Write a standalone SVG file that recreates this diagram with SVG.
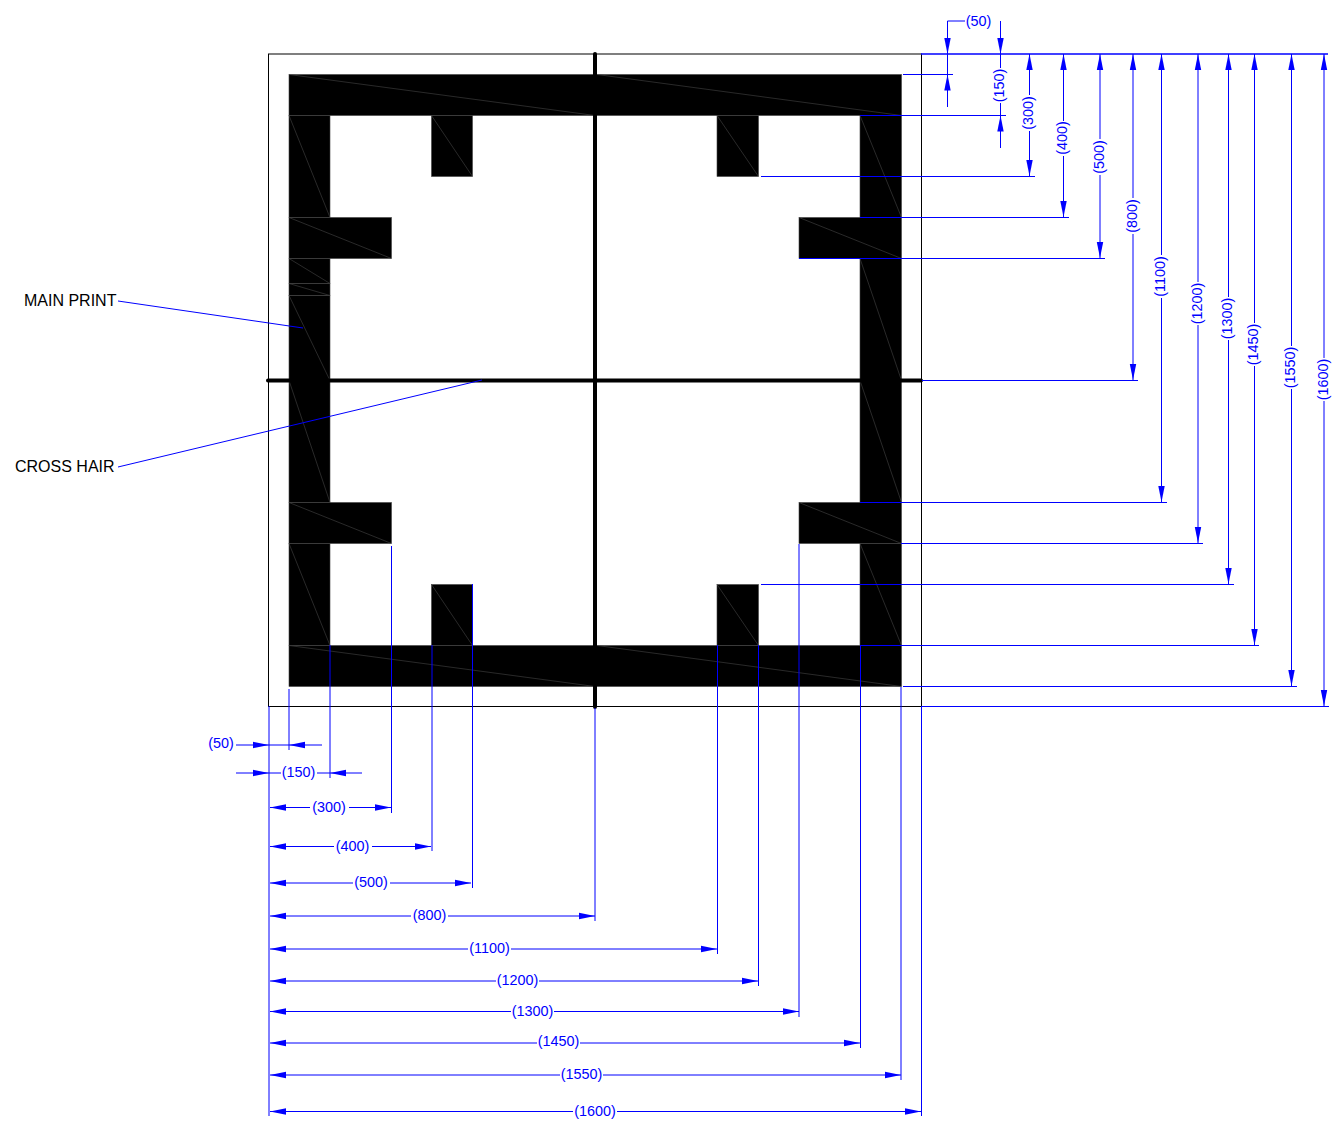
<svg xmlns="http://www.w3.org/2000/svg" width="1332" height="1122" viewBox="0 0 1332 1122">
<style>
.s{fill:#000;stroke:#444;stroke-width:.6}
.d{fill:none;stroke:#444;stroke-width:.6}
.o{fill:none;stroke:#000;stroke-width:1}
.c{fill:none;stroke:#000;stroke-width:4;stroke-linecap:round}
.b{fill:none;stroke:#00f;stroke-width:1}
.a{marker-start:url(#ar);marker-end:url(#ar)}
.e{marker-end:url(#ar)}
text{font-family:"Liberation Sans",Arial,sans-serif;font-size:14.4px}
.t{fill:#00f;text-anchor:middle}
.l{fill:#000;font-size:16px}
</style>
<defs>
<marker id="ar" markerUnits="userSpaceOnUse" markerWidth="16" markerHeight="8" refX="16" refY="4" orient="auto-start-reverse"><path d="M0 .8L16 4L0 7.2Z" fill="#00f"/></marker>
</defs>
<rect id="sheet" x="268.5" y="54" width="653" height="652.5" class="o"/>
<g id="main-print">
<rect class="s" x="289" y="74.5" width="612.5" height="41"/><path class="d" d="M289 74.5L595 115.5M597 74.5L901.5 115.5"/>
<rect class="s" x="289" y="645.5" width="612.5" height="41"/><path class="d" d="M289 645.5L595 686.5M597 645.5L901.5 686.5"/>
<rect class="s" x="289" y="115.5" width="41" height="102"/><path class="d" d="M289 115.5L330 217.5"/>
<rect class="s" x="289" y="217.5" width="102.5" height="41"/><path class="d" d="M289 217.5L391.5 258.5"/>
<rect class="s" x="289" y="258.5" width="41" height="25"/><path class="d" d="M289 258.5L330 283.5"/>
<rect class="s" x="289" y="283.5" width="41" height="12"/><path class="d" d="M289 283.5L330 295.5"/>
<rect class="s" x="289" y="295.5" width="41" height="85"/><path class="d" d="M289 295.5L330 380.5"/>
<rect class="s" x="289" y="380.5" width="41" height="122"/><path class="d" d="M289 380.5L330 502.5"/>
<rect class="s" x="289" y="502.5" width="102.5" height="41"/><path class="d" d="M289 502.5L391.5 543.5"/>
<rect class="s" x="289" y="543.5" width="41" height="102"/><path class="d" d="M289 543.5L330 645.5"/>
<rect class="s" x="860" y="115.5" width="41.500" height="102"/><path class="d" d="M860 115.5L901.500 217.5"/>
<rect class="s" x="799" y="217.5" width="102.5" height="41"/><path class="d" d="M799 217.5L901.5 258.5"/>
<rect class="s" x="860" y="258.5" width="41.5" height="122"/><path class="d" d="M860 258.5L901.5 380.5"/>
<rect class="s" x="860" y="380.5" width="41.5" height="122"/><path class="d" d="M860 380.5L901.5 502.5"/>
<rect class="s" x="799" y="502.5" width="102.5" height="41"/><path class="d" d="M799 502.5L901.5 543.5"/>
<rect class="s" x="860" y="543.5" width="41.5" height="102"/><path class="d" d="M860 543.5L901.5 645.5"/>
<rect class="s" x="431.500" y="115.5" width="41" height="61"/><path class="d" d="M431.500 115.5L472.5 176.5"/>
<rect class="s" x="717" y="115.5" width="41.5" height="61"/><path class="d" d="M717 115.5L758.5 176.5"/>
<rect class="s" x="431.500" y="584.5" width="41" height="61"/><path class="d" d="M431.500 584.5L472.5 645.5"/>
<rect class="s" x="717" y="584.5" width="41.5" height="61"/><path class="d" d="M717 584.5L758.5 645.5"/>
</g>
<g id="cross-hair">
<path class="c" d="M268 380.500H921M595 54V707"/>
</g>
<g id="label-main-print"><text class="l" x="24" y="306">MAIN PRINT</text></g>
<g id="label-cross-hair"><text class="l" x="15" y="472">CROSS HAIR</text></g>
<g id="connectors">
<path class="b" d="M118 301L303 328M118 467L482 380"/>
<path class="b" style="stroke-width:1.6" d="M921 54H1328"/>
<path class="b" d="M903 74.500H953M860 115.500H1006M761 176.500H1035M860 217.500H1069M799 258.500H1105M922 380.500H1138M860 502.500H1167M901 543.500H1203M761 584.500H1234M860 645.500H1259M903 686.500H1297M921 706.500H1329"/>
<path class="b e" d="M965 21H947.500V54"/>
<path class="b" d="M947.500 54V74.500"/>
<path class="b e" d="M947.500 107V74.500"/>
<path class="b e" d="M1000.500 21V54"/>
<path class="b" d="M1000.500 54V68M1000.500 103V115"/>
<path class="b e" d="M1000.500 148V115.500"/>
<path class="b a" d="M1029.500 54V95M1029.500 131V176"/>
<path class="b a" d="M1063.500 54V121M1063.500 156V217"/>
<path class="b a" d="M1100 54V139M1100 175V258"/>
<path class="b a" d="M1133 54V198M1133 234V380"/>
<path class="b a" d="M1161.500 54V255M1161.500 298V502"/>
<path class="b a" d="M1198 54V282M1198 325V543"/>
<path class="b a" d="M1228.500 54V297M1228.500 340V584"/>
<path class="b a" d="M1254.500 54V323M1254.500 366V645"/>
<path class="b a" d="M1291.500 54V346M1291.500 389V686"/>
<path class="b a" d="M1324 54V358M1324 401V706"/>
<path class="b" d="M269 706V1116M921.500 706V1116M289 689V750M330 645V778M391.500 546V813M432 645V851M472.500 584V888M595 708V921M717.500 645V954M758.500 645V986M799 544V1017M860.500 645V1048M901 687V1080"/>
<path class="b e" d="M236 745H269"/>
<path class="b" d="M269 745H289"/>
<path class="b e" d="M322 745H289"/>
<path class="b e" d="M236 773H269"/>
<path class="b" d="M269 773H281M317 773H330"/>
<path class="b e" d="M362 773H330"/>
<path class="b a" d="M270 807.500H310M349 807.500H391"/>
<path class="b a" d="M270 846.500H334M372 846.500H431"/>
<path class="b a" d="M270 883H353M390 883H471"/>
<path class="b a" d="M270 916H411M448 916H595"/>
<path class="b a" d="M270 949H468M511 949H717"/>
<path class="b a" d="M270 981H496M539 981H758"/>
<path class="b a" d="M270 1011.500H511M554 1011.500H799"/>
<path class="b a" d="M270 1043H537M580 1043H860"/>
<path class="b a" d="M270 1075H560M603 1075H901"/>
<path class="b a" d="M270 1111.500H573M617 1111.500H921"/>
</g>
<g id="dimension-labels">
<text class="t" x="978.500" y="26">(50)</text>
<text class="t" transform="translate(1000.500 85.500) rotate(-90)" y="3.500">(150)</text>
<text class="t" transform="translate(1029.500 113) rotate(-90)" y="3.500">(300)</text>
<text class="t" transform="translate(1063.500 138) rotate(-90)" y="3.500">(400)</text>
<text class="t" transform="translate(1100 157) rotate(-90)" y="3.500">(500)</text>
<text class="t" transform="translate(1133 216) rotate(-90)" y="3.500">(800)</text>
<text class="t" transform="translate(1161.500 276.500) rotate(-90)" y="3.500">(1100)</text>
<text class="t" transform="translate(1198 303.500) rotate(-90)" y="3.500">(1200)</text>
<text class="t" transform="translate(1228.500 318.500) rotate(-90)" y="3.500">(1300)</text>
<text class="t" transform="translate(1254.500 344.500) rotate(-90)" y="3.500">(1450)</text>
<text class="t" transform="translate(1291.500 367.500) rotate(-90)" y="3.500">(1550)</text>
<text class="t" transform="translate(1324 379.500) rotate(-90)" y="3.500">(1600)</text>
<text class="t" x="221" y="748">(50)</text>
<text class="t" x="298.500" y="777">(150)</text>
<text class="t" x="329" y="812">(300)</text>
<text class="t" x="352.500" y="850.500">(400)</text>
<text class="t" x="371" y="886.500">(500)</text>
<text class="t" x="429.500" y="920">(800)</text>
<text class="t" x="489.500" y="953">(1100)</text>
<text class="t" x="517.500" y="985">(1200)</text>
<text class="t" x="532.500" y="1015.500">(1300)</text>
<text class="t" x="558.500" y="1046">(1450)</text>
<text class="t" x="581.500" y="1079">(1550)</text>
<text class="t" x="595" y="1116">(1600)</text>
</g>
</svg>
